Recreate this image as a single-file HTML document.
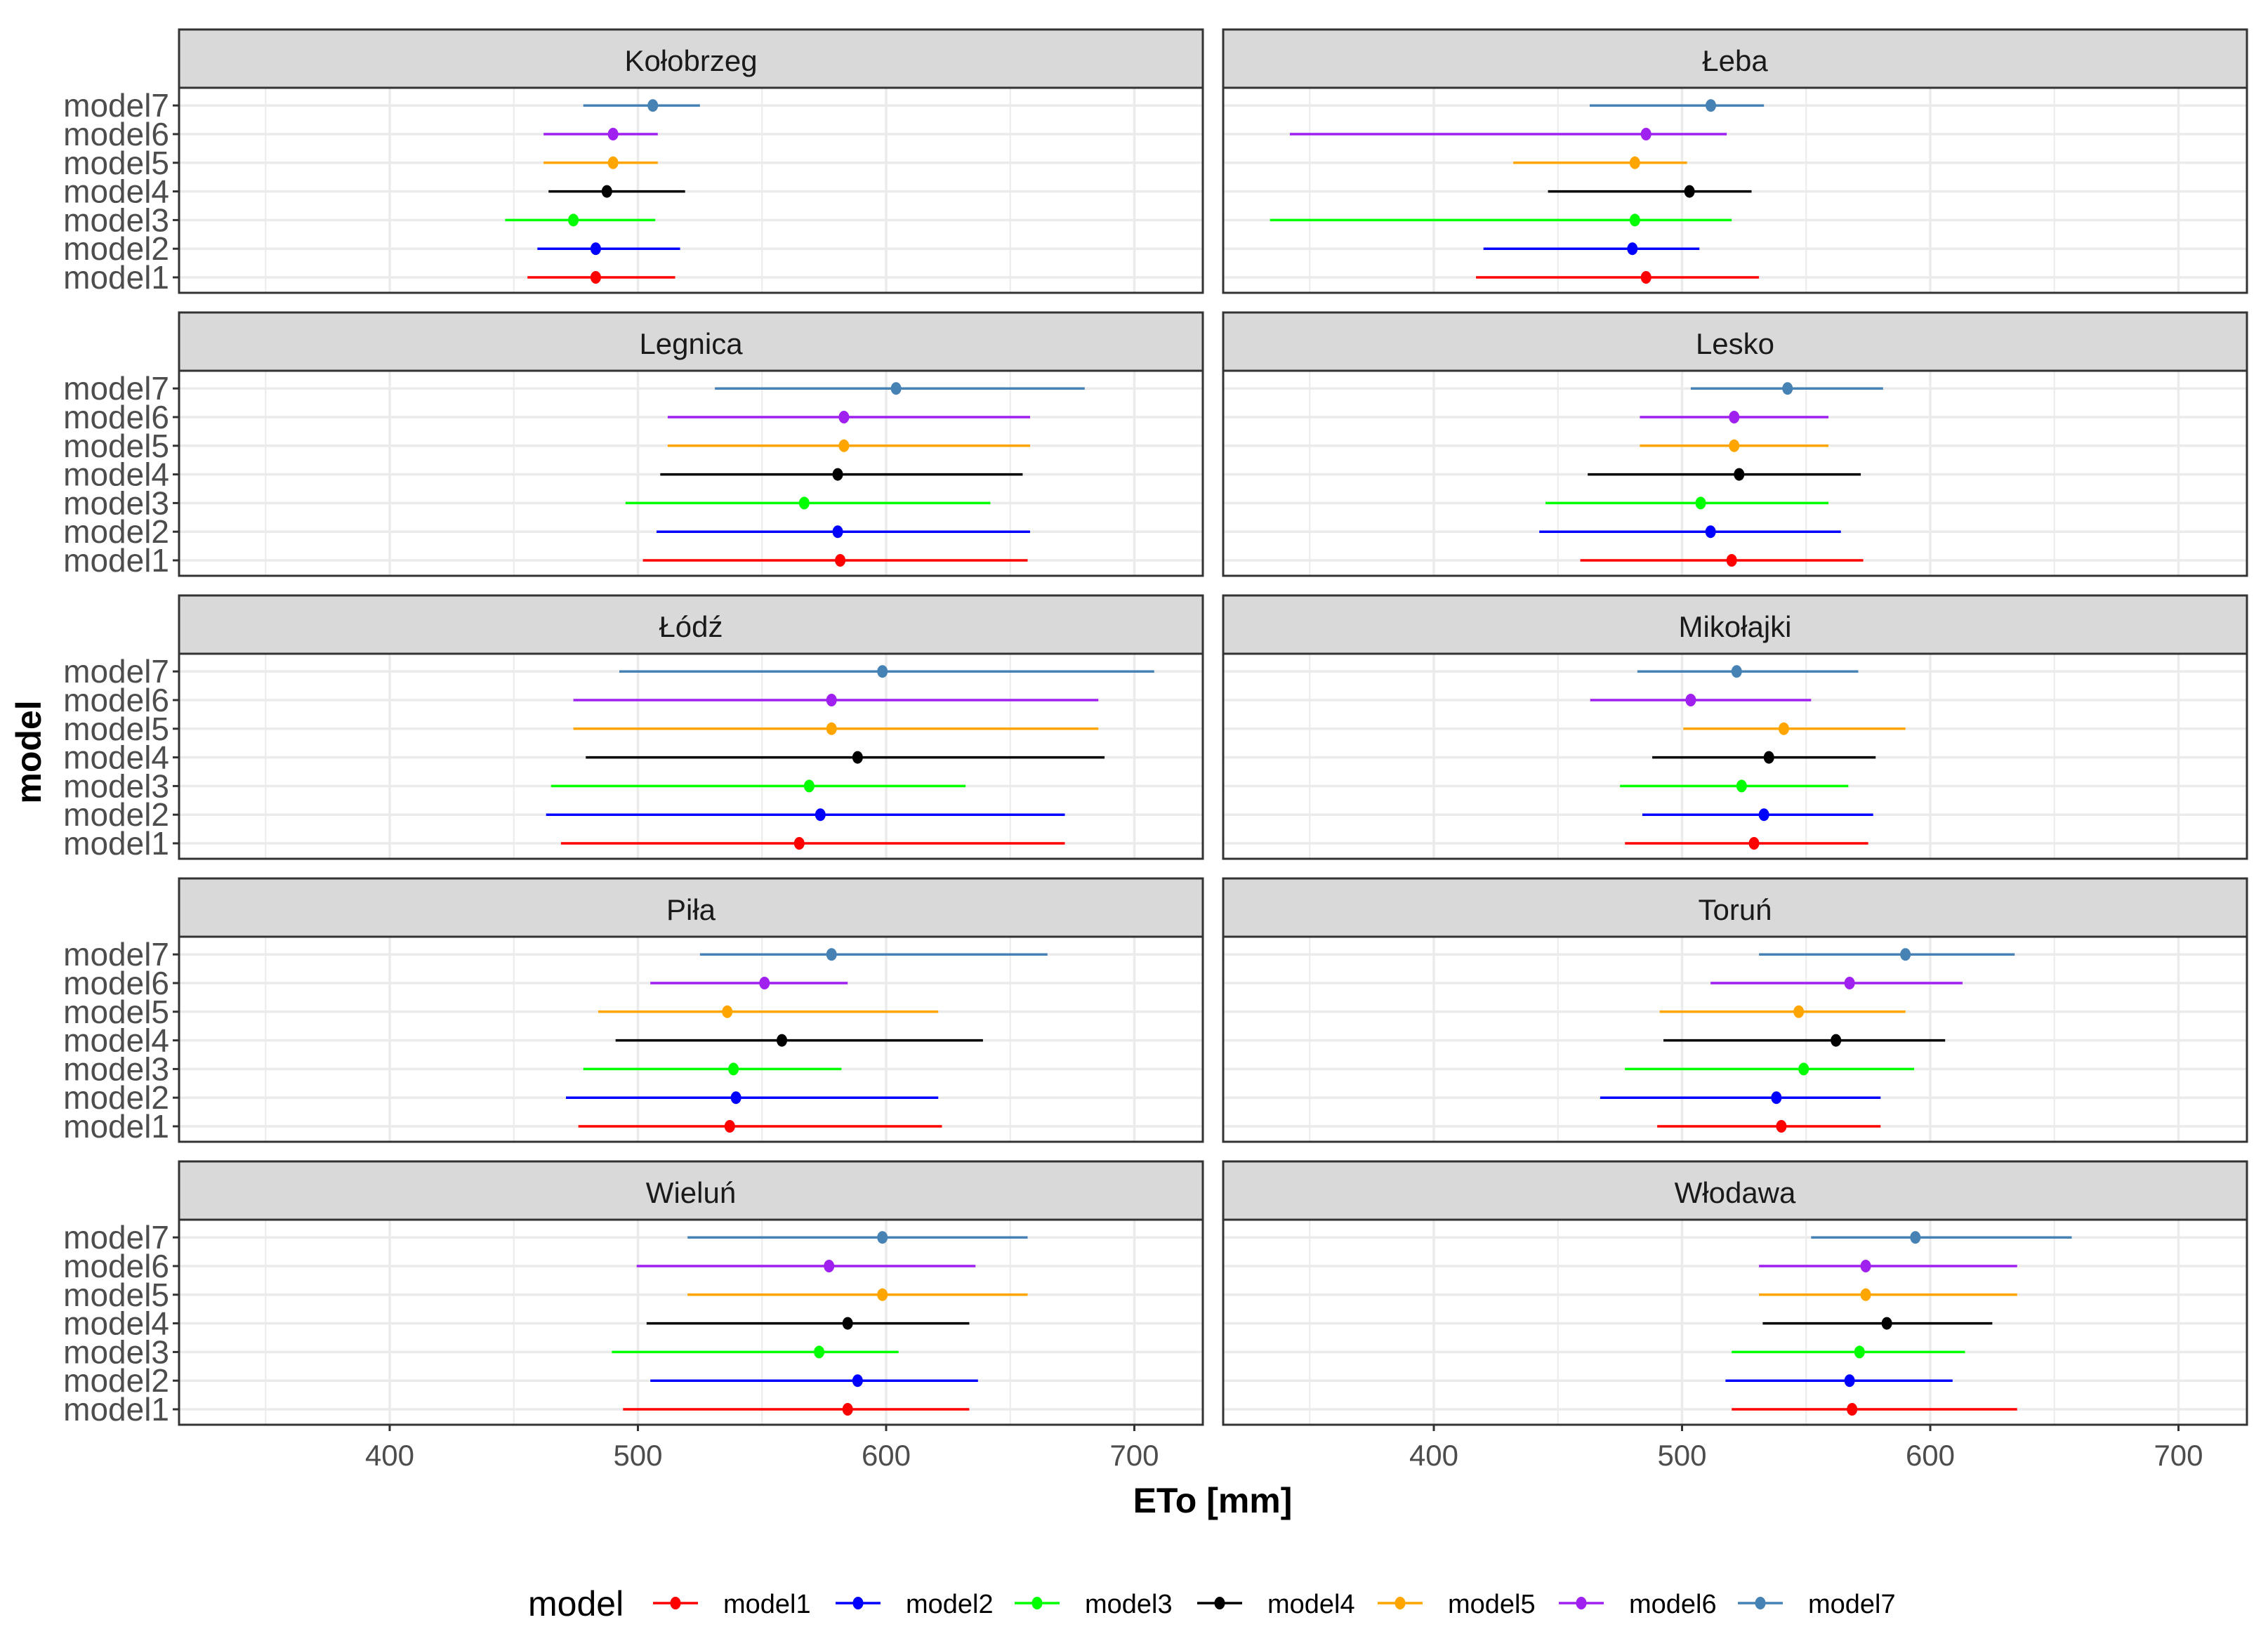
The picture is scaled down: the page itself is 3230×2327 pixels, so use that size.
<!DOCTYPE html>
<html><head><meta charset="utf-8"><style>
html,body{margin:0;padding:0;background:#fff;}
svg{display:block;font-family:"Liberation Sans",Arial,sans-serif;}
</style></head><body>
<svg id="chart" width="3230" height="2327" viewBox="0 0 3230 2327" xmlns="http://www.w3.org/2000/svg">
<rect x="0" y="0" width="3230" height="2327" fill="#fff"/>
<g id="panels"></g>
<text x="1727" y="2154" font-size="50" font-weight="bold" text-anchor="middle" fill="#000">ETo [mm]</text>
<text transform="translate(58,1071) rotate(-90)" font-size="50" font-weight="bold" text-anchor="middle" fill="#000">model</text>
<g id="legend"></g>
</svg>
<script>
const stations = ["Kołobrzeg","Łeba","Legnica","Lesko","Łódź","Mikołajki","Piła","Toruń","Wieluń","Włodawa"];
const models = ["model1","model2","model3","model4","model5","model6","model7"];
const modelColors = ["#ff0000","#0000ff","#00ff00","#000000","#ffa500","#a020f0","#4682b4"];
const xTicks = [400,500,600,700];
// values per station, order model1..model7
const means = [
 [483,483,474,487.5,490,490,506],
 [485.5,480,481,503,481,485.5,511.6],
 [581.5,580.5,567,580.5,583,583,604],
 [520,511.5,507.5,523,521,521,542.5],
 [565,573.5,569,588.5,578,578,598.5],
 [529,533,524,535,541,503.5,522],
 [537,539.5,538.5,558,536,551,578],
 [540,538,549,562,547,567.5,590],
 [584.5,588.5,573,584.5,598.5,577,598.5],
 [568.5,567.5,571.5,582.5,574,574,594]
];
const lows = [
 [455.5,459.5,446.5,464,462,462,478],
 [417,420,334,446,432,342,462.8],
 [502,507.5,495,509,512,512,531],
 [459,442.5,445,462,483,483,503.5],
 [469,463,465,479,474,474,492.5],
 [477,484,475,488,500.5,463,482],
 [476,471,478,491,484,505,525],
 [490,467,477,492.5,491,511.5,531],
 [494,505,489.5,503.5,520,499.5,520],
 [520,517.5,520,532.5,531,531,552]
];
const highs = [
 [515,517,507,519,508,508,525],
 [531,507,520,528,502,518,533],
 [657,658,642,655,658,658,680],
 [573,564,559,572,559,559,581],
 [672,672,632,688,685.5,685.5,708],
 [575,577,567,578,590,552,571],
 [622.5,621,582,639,621,584.5,665],
 [580,580,593.5,606,590,613,634],
 [633.5,637,605,633.5,657,636,657],
 [635,609,614,625,635,635,657]
];

const NS="http://www.w3.org/2000/svg";
function mk(tag, attrs, parent){const e=document.createElementNS(NS,tag);for(const k in attrs)e.setAttribute(k,attrs[k]);parent.appendChild(e);return e;}
const colLeft=[255,1742], PW=1458, PX=300, UNIT=3.535;
const rowTop=42, period=403, stripH=83, panelH=292;
function xScale(c,v){return colLeft[c]+PX+(v-400)*UNIT;}
function yScale(r,i){const top=rowTop+r*period+stripH;return top+270-i*40.8;}
const root=document.getElementById('panels');
stations.forEach((st,s)=>{
  const c=s%2, r=Math.floor(s/2);
  const g=mk('g',{},root);
  
  
  const x0=colLeft[c], sTop=rowTop+r*period, pTop=sTop+stripH;
  const strip=mk('rect',{x:x0,y:sTop,width:PW,height:stripH,fill:'#d9d9d9',stroke:'#333',"stroke-width":3},g);
  
  
  const t=mk('text',{x:x0+PW/2,y:sTop+59,"font-size":42,"text-anchor":"middle",fill:'#1a1a1a'},g);
  t.textContent=st;
  
  
  mk('rect',{x:x0,y:pTop,width:PW,height:panelH,fill:'#fff'},g);
  for(let v=350;v<=750;v+=100){const xx=xScale(c,v);if(xx>x0&&xx<x0+PW)mk('line',{x1:xx,x2:xx,y1:pTop,y2:pTop+panelH,stroke:'#ebebeb',"stroke-width":2},g);}
  xTicks.forEach(v=>{const xx=xScale(c,v);mk('line',{x1:xx,x2:xx,y1:pTop,y2:pTop+panelH,stroke:'#ebebeb',"stroke-width":3.5},g);});
  models.forEach((m,i)=>{const yy=yScale(r,i);mk('line',{x1:x0,x2:x0+PW,y1:yy,y2:yy,stroke:'#ebebeb',"stroke-width":3.5},g);});
  models.forEach((m,i)=>{
    const yy=yScale(r,i);
    const bar=mk('line',{x1:xScale(c,lows[s][i]),x2:xScale(c,highs[s][i]),y1:yy,y2:yy,stroke:modelColors[i],"stroke-width":3.5},g);
    
    
    const pt=mk('ellipse',{cx:xScale(c,means[s][i]),cy:yy,rx:7.5,ry:9,fill:modelColors[i]},g);
    
    
  });
  mk('rect',{x:x0,y:pTop,width:PW,height:panelH,fill:'none',stroke:'#333',"stroke-width":3},g);
  if(c===0){
    models.forEach((m,i)=>{const yy=yScale(r,i);
      mk('line',{x1:x0-9,x2:x0,y1:yy,y2:yy,stroke:'#333',"stroke-width":3},g);
      const l=mk('text',{x:x0-14,y:yy+16,"font-size":46,"text-anchor":"end",fill:'#4d4d4d'},g);
      l.textContent=m;
      
      
    });
  }
  if(r===4){
    xTicks.forEach(v=>{const xx=xScale(c,v);
      mk('line',{x1:xx,x2:xx,y1:pTop+panelH,y2:pTop+panelH+9,stroke:'#333',"stroke-width":3},g);
      const l=mk('text',{x:xx,y:2087,"font-size":42,"text-anchor":"middle",fill:'#4d4d4d'},g);
      l.textContent=v;
      
      
    });
  }
});
const lg=document.getElementById('legend');
const lt=mk('text',{x:752,y:2301,"font-size":50,fill:'#000'},lg);
lt.textContent='model';


const keyX=[962,1222,1477,1737,1994,2252,2507];
models.forEach((m,i)=>{
  const g=mk('g',{},lg);
  
  
  const cx=keyX[i], cy=2283;
  mk('line',{x1:cx-32,x2:cx+32,y1:cy,y2:cy,stroke:modelColors[i],"stroke-width":3.5},g);
  mk('ellipse',{cx:cx,cy:cy,rx:7.5,ry:9,fill:modelColors[i]},g);
  const l=mk('text',{x:cx+68,y:cy+14,"font-size":38,fill:'#000'},g);
  l.textContent=m;
});
</script>
</body></html>
